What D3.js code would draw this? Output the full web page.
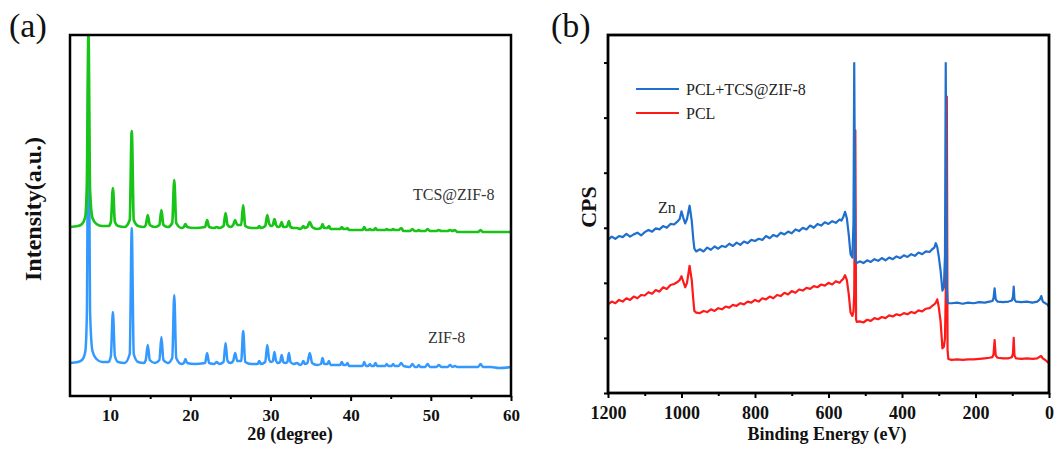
<!DOCTYPE html>
<html>
<head>
<meta charset="utf-8">
<script src="https://cdn.jsdelivr.net/npm/d3@7/dist/d3.min.js"></script>
<style>
  html, body { margin: 0; padding: 0; background: #fff; }
  svg { display: block; font-family: "Liberation Serif", "Times New Roman", serif; }
</style>
</head>
<body>
<svg id="chart" width="1057" height="450"></svg>
<script>
// ---------- (a) XRD patterns ----------
const xrdAngle = [
  5.0, 6.0, 6.5, 6.9, 7.1, 7.3, 7.5, 7.8, 8.3, 9.0,
  9.8, 10.1, 10.35, 10.6, 11.0, 11.8, 12.45, 12.7, 12.95, 13.5,
  14.2, 14.45, 14.7, 14.95, 15.6, 16.15, 16.4, 16.65, 17.2, 17.75,
  18.0, 18.25, 18.9, 19.2, 19.4, 19.6, 20.5, 21.85, 22.1, 22.35,
  23.0, 23.3, 23.6, 24.15, 24.4, 24.65, 25.0, 25.35, 25.6, 25.85,
  26.35, 26.6, 26.85, 27.6, 28.4, 28.6, 28.8, 29.35, 29.6, 29.85,
  30.1, 30.3, 30.5, 30.7, 30.95, 31.2, 31.4, 31.6, 31.85, 32.1,
  32.3, 32.5, 32.9, 33.3, 33.7, 33.9, 34.1, 34.3, 34.6, 34.9,
  35.2, 35.8, 36.3, 36.5, 36.7, 37.1, 37.3, 37.5, 38.3, 38.7,
  38.9, 39.1, 39.4, 39.6, 39.8, 40.8, 41.5, 41.7, 41.9, 42.2,
  42.4, 42.6, 42.9, 43.1, 43.3, 44.0, 44.3, 44.5, 44.7, 45.1,
  45.3, 45.5, 46.0, 46.3, 46.6, 47.4, 47.7, 48.0, 48.3, 48.5,
  48.7, 49.3, 49.6, 49.9, 50.7, 51.0, 51.3, 52.1, 52.4, 52.7,
  53.0, 53.3, 54.5, 55.9, 56.2, 56.5, 57.5, 58.5, 60.0
];
const zif8Intensity = [
  33, 34, 36, 44, 80, 335, 85, 45, 37, 34,
  34, 40, 84, 40, 34, 33, 42, 168, 42, 34,
  33, 36, 51, 36, 33, 36, 59, 36, 33, 38,
  101, 38, 32, 33, 37, 33, 32, 33, 43, 33,
  32, 34, 32, 34, 53, 35, 33, 35, 43, 35,
  35, 65, 34, 32, 32, 35, 32, 34, 51, 36,
  34, 35, 44, 35, 33, 34, 41, 34, 33, 34,
  43, 34, 32, 33, 31, 32, 35, 32, 33, 43,
  33, 31, 32, 38, 32, 32, 35, 31, 31, 31,
  34, 31, 31, 33, 30, 30, 30, 34, 30, 30,
  32, 30, 30, 33, 30, 30, 30, 32, 30, 30,
  32, 30, 30, 33, 30, 29, 32, 29, 29, 31,
  29, 29, 32, 29, 29, 31, 29, 29, 31, 29,
  30, 29, 29, 29, 32, 29, 29, 28, 29
];
const tcsZif8Intensity = [
  33, 34, 36, 43, 75, 228, 70, 42, 36, 34,
  34, 38, 72, 38, 34, 33, 40, 129, 40, 34,
  33, 35, 45, 35, 33, 35, 50, 35, 33, 37,
  80, 37, 32, 33, 36, 33, 32, 33, 40, 33,
  32, 33, 32, 34, 47, 35, 33, 35, 40, 35,
  35, 55, 34, 32, 32, 34, 32, 34, 45, 36,
  34, 35, 41, 35, 33, 34, 38, 33, 33, 34,
  39, 33, 32, 32, 31, 32, 34, 32, 33, 38,
  33, 31, 32, 36, 32, 32, 34, 31, 31, 31,
  33, 31, 31, 32, 30, 30, 30, 33, 30, 30,
  31, 30, 30, 32, 30, 30, 30, 31, 30, 30,
  31, 30, 30, 32, 29, 29, 31, 29, 29, 30,
  29, 29, 31, 29, 29, 30, 29, 29, 30, 29,
  30, 28, 28, 28, 30, 28, 28, 28, 28
];
const xrdTicks = [10, 20, 30, 40, 50, 60];
const xrdMinorTicks = [15, 25, 35, 45, 55];
const xrdLabels = ["ZIF-8", "TCS@ZIF-8"];

// ---------- (b) XPS survey spectra ----------
const xpsEnergy = [
  1200, 1190, 1180, 1170, 1160, 1150, 1140, 1130, 1120, 1110,
  1100, 1090, 1080, 1070, 1060, 1050, 1040, 1030, 1020, 1010,
  1005, 1000, 995, 990, 985, 978, 972, 968, 965, 960,
  950, 940, 930, 920, 910, 900, 890, 880, 870, 860,
  850, 840, 830, 820, 810, 800, 790, 780, 770, 760,
  750, 740, 730, 720, 710, 700, 690, 680, 670, 660,
  650, 640, 630, 620, 610, 600, 590, 580, 570, 565,
  560, 555, 550, 545, 540, 535, 532, 530, 527, 525,
  523, 515, 505, 495, 485, 475, 465, 455, 445, 435,
  425, 415, 405, 395, 385, 375, 365, 355, 345, 335,
  325, 318, 312, 308, 304, 300, 295, 290, 286, 283,
  281, 278, 276, 274, 265, 250, 235, 220, 205, 190,
  175, 162, 154, 151, 148, 145, 140, 125, 110, 101,
  98, 96, 94, 90, 75, 60, 45, 32, 25, 21,
  17, 10, 5, 0
];
const pclTcsZif8Cps = [
  2.78, 2.84, 2.80, 2.85, 2.83, 2.89, 2.84, 2.88, 2.91, 2.86,
  2.92, 2.96, 2.93, 2.99, 2.97, 3.03, 3.00, 3.07, 3.06, 3.12,
  3.16, 3.30, 3.18, 3.08, 3.16, 3.40, 3.12, 2.80, 2.62, 2.57,
  2.61, 2.57, 2.64, 2.60, 2.66, 2.62, 2.67, 2.65, 2.71, 2.67,
  2.73, 2.69, 2.75, 2.72, 2.78, 2.76, 2.80, 2.78, 2.85, 2.81,
  2.87, 2.84, 2.91, 2.88, 2.93, 2.90, 2.97, 2.94, 3.00, 2.97,
  3.04, 3.00, 3.07, 3.04, 3.10, 3.07, 3.12, 3.09, 3.15, 3.13,
  3.19, 3.29, 3.17, 2.88, 2.52, 2.46, 3.10, 5.99, 2.45, 2.38,
  2.36, 2.39, 2.36, 2.41, 2.38, 2.43, 2.40, 2.45, 2.41, 2.46,
  2.43, 2.48, 2.45, 2.50, 2.47, 2.52, 2.49, 2.55, 2.52, 2.57,
  2.56, 2.61, 2.64, 2.72, 2.65, 2.48, 2.22, 1.86, 1.92, 2.50,
  5.99, 1.90, 1.66, 1.63, 1.63, 1.64, 1.62, 1.64, 1.63, 1.65,
  1.64, 1.66, 1.67, 1.72, 1.90, 1.70, 1.66, 1.65, 1.66, 1.68,
  1.75, 1.93, 1.70, 1.66, 1.65, 1.66, 1.64, 1.66, 1.70, 1.76,
  1.66, 1.63, 1.61, 1.57
];
const pclCps = [
  1.61, 1.66, 1.63, 1.69, 1.66, 1.72, 1.69, 1.75, 1.72, 1.78,
  1.77, 1.83, 1.80, 1.87, 1.84, 1.92, 1.89, 1.96, 1.98, 2.02,
  2.05, 2.12, 2.02, 1.92, 2.00, 2.31, 2.04, 1.70, 1.49, 1.46,
  1.45, 1.49, 1.47, 1.52, 1.49, 1.54, 1.52, 1.57, 1.55, 1.60,
  1.58, 1.63, 1.61, 1.66, 1.64, 1.69, 1.66, 1.72, 1.70, 1.75,
  1.72, 1.78, 1.76, 1.82, 1.79, 1.85, 1.82, 1.88, 1.86, 1.91,
  1.89, 1.94, 1.92, 1.97, 1.95, 2.00, 1.97, 2.03, 2.00, 2.04,
  2.07, 2.14, 2.05, 1.80, 1.46, 1.40, 1.48, 1.80, 4.77, 1.34,
  1.29, 1.30, 1.28, 1.33, 1.31, 1.36, 1.34, 1.38, 1.36, 1.41,
  1.39, 1.43, 1.41, 1.45, 1.43, 1.47, 1.45, 1.50, 1.48, 1.53,
  1.54, 1.58, 1.61, 1.64, 1.70, 1.56, 1.30, 0.81, 0.84, 1.00,
  1.80, 5.38, 0.78, 0.62, 0.60, 0.61, 0.60, 0.61, 0.61, 0.62,
  0.63, 0.64, 0.65, 0.70, 0.96, 0.68, 0.64, 0.63, 0.63, 0.65,
  0.72, 1.00, 0.68, 0.63, 0.62, 0.63, 0.62, 0.63, 0.66, 0.67,
  0.63, 0.60, 0.57, 0.54
];
const xpsTicks = [1200, 1000, 800, 600, 400, 200, 0];
const xpsMinorTicks = [1100, 900, 700, 500, 300, 100];
const xpsYTicks = [0, 1, 2, 3, 4, 5, 6];
const xpsSeriesNames = ["PCL+TCS@ZIF-8", "PCL"];

// ---------- drawing ----------
const svg = d3.select("#chart");
const serif = '"Liberation Serif", "Times New Roman", serif';
const colors = {
  zif8: "#3399ff",
  tcs: "#17c417",
  blend: "#1f6fcc",
  pcl: "#ff1a1a"
};

function styleAxis(g) {
  g.select(".domain").remove();
  g.selectAll(".tick line").attr("stroke", "#000").attr("stroke-width", 2);
  g.selectAll(".tick text")
    .attr("fill", "#111")
    .style("font-family", serif)
    .style("font-weight", "bold");
}

// ===== Panel (a) =====
const A = { left: 70, right: 511, top: 35, bottom: 396 };
const xA = d3.scaleLinear().domain([5, 60]).range([A.left, A.right]);
const yA = d3.scaleLinear().domain([0, 361]).range([A.bottom, A.top]);
const tcsOffset = 136; // vertical stacking of the upper trace

svg.append("clipPath").attr("id", "clipA")
  .append("rect").attr("x", A.left).attr("y", A.top)
  .attr("width", A.right - A.left).attr("height", A.bottom - A.top);

const lineA = (vals, off) => d3.line()
  .x((d, i) => xA(xrdAngle[i]))
  .y(d => yA(d + off))
  .curve(d3.curveMonotoneX)(vals);

const gA = svg.append("g").attr("clip-path", "url(#clipA)");
gA.append("path").attr("d", lineA(zif8Intensity, 0))
  .attr("fill", "none").attr("stroke", colors.zif8).attr("stroke-width", 2.5)
  .attr("stroke-linejoin", "round");
gA.append("path").attr("d", lineA(tcsZif8Intensity, tcsOffset))
  .attr("fill", "none").attr("stroke", colors.tcs).attr("stroke-width", 2.7)
  .attr("stroke-linejoin", "round");

// x axis (a)
svg.append("g").attr("transform", `translate(0,${A.bottom})`)
  .call(d3.axisBottom(xA).tickValues(xrdTicks).tickSize(5).tickPadding(8).tickFormat(d3.format("d")))
  .call(styleAxis)
  .call(g => g.selectAll(".tick text").style("font-size", "17px"));
svg.append("g").attr("transform", `translate(0,${A.bottom})`)
  .call(d3.axisBottom(xA).tickValues(xrdMinorTicks).tickSize(3).tickFormat(""))
  .call(styleAxis);

svg.append("rect").attr("x", A.left).attr("y", A.top)
  .attr("width", A.right - A.left).attr("height", A.bottom - A.top)
  .attr("fill", "none").attr("stroke", "#000").attr("stroke-width", 2.5);

svg.append("text").attr("x", 290).attr("y", 440)
  .attr("text-anchor", "middle").style("font-size", "18px").style("font-weight", "bold")
  .attr("fill", "#111").text("2θ (degree)");
svg.append("text").attr("transform", "translate(41,209) rotate(-90)")
  .attr("text-anchor", "middle").style("font-size", "24px").style("font-weight", "bold")
  .attr("fill", "#111").text("Intensity(a.u.)");
svg.append("text").attr("x", 9).attr("y", 37).style("font-size", "34px")
  .attr("fill", "#111").text("(a)");

svg.append("text").attr("x", 428).attr("y", 343).style("font-size", "16px")
  .attr("fill", "#333").text(xrdLabels[0]);
svg.append("text").attr("x", 413).attr("y", 200).style("font-size", "16px")
  .attr("fill", "#333").text(xrdLabels[1]);

// ===== Panel (b) =====
const B = { left: 608, right: 1049, top: 35, bottom: 393 };
const xB = d3.scaleLinear().domain([1200, 0]).range([B.left, B.right]);
const yB = d3.scaleLinear().domain([0, 6.5]).range([B.bottom, B.top]);

svg.append("clipPath").attr("id", "clipB")
  .append("rect").attr("x", B.left).attr("y", B.top)
  .attr("width", B.right - B.left).attr("height", B.bottom - B.top);

const lineB = vals => d3.line()
  .x((d, i) => xB(xpsEnergy[i]))
  .y(d => yB(d))(vals);

const gB = svg.append("g").attr("clip-path", "url(#clipB)");
gB.append("path").attr("d", lineB(pclCps))
  .attr("fill", "none").attr("stroke", colors.pcl).attr("stroke-width", 2.2)
  .attr("stroke-linejoin", "round");
gB.append("path").attr("d", lineB(pclTcsZif8Cps))
  .attr("fill", "none").attr("stroke", colors.blend).attr("stroke-width", 2.2)
  .attr("stroke-linejoin", "round");

svg.append("g").attr("transform", `translate(0,${B.bottom})`)
  .call(d3.axisBottom(xB).tickValues(xpsTicks).tickSize(5).tickPadding(8).tickFormat(d3.format("d")))
  .call(styleAxis)
  .call(g => g.selectAll(".tick text").style("font-size", "18px"));
svg.append("g").attr("transform", `translate(0,${B.bottom})`)
  .call(d3.axisBottom(xB).tickValues(xpsMinorTicks).tickSize(3).tickFormat(""))
  .call(styleAxis);
svg.append("g").attr("transform", `translate(${B.left},0)`)
  .call(d3.axisLeft(yB).tickValues(xpsYTicks).tickSize(4).tickFormat(""))
  .call(styleAxis);

svg.append("rect").attr("x", B.left).attr("y", B.top)
  .attr("width", B.right - B.left).attr("height", B.bottom - B.top)
  .attr("fill", "none").attr("stroke", "#000").attr("stroke-width", 2.8);

svg.append("text").attr("x", 827).attr("y", 440)
  .attr("text-anchor", "middle").style("font-size", "18px").style("font-weight", "bold")
  .attr("fill", "#111").text("Binding Energy (eV)");
svg.append("text").attr("transform", "translate(596,207) rotate(-90)")
  .attr("text-anchor", "middle").style("font-size", "22px").style("font-weight", "bold")
  .attr("fill", "#111").text("CPS");
svg.append("text").attr("x", 551).attr("y", 37).style("font-size", "34px")
  .attr("fill", "#111").text("(b)");

svg.append("text").attr("x", 658).attr("y", 213).style("font-size", "16px")
  .attr("fill", "#222").text("Zn");

// legend
const legend = svg.append("g");
[[xpsSeriesNames[0], colors.blend, 89], [xpsSeriesNames[1], colors.pcl, 113]].forEach(([name, c, y]) => {
  legend.append("line").attr("x1", 636).attr("x2", 679).attr("y1", y).attr("y2", y)
    .attr("stroke", c).attr("stroke-width", 2);
  legend.append("text").attr("x", 686).attr("y", y + 6).style("font-size", "16px")
    .attr("fill", "#222").text(name);
});
</script>
</body>
</html>
